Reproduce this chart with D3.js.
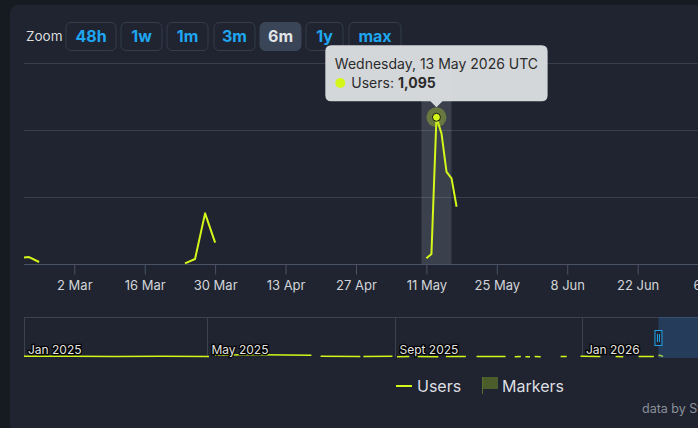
<!DOCTYPE html>
<html>
<head>
<meta charset="utf-8">
<script src="https://cdn.jsdelivr.net/npm/d3@7"></script>
<style>
body { margin: 0; background: #161a21; overflow: hidden; }
svg { display: block; font-family: Inter, "Noto Sans", sans-serif; }
</style>
</head>
<body>
<div id="chart"></div>
<script>
// main series (6m window)
var dates = ['2026-02-20', '2026-02-21', '2026-02-23', '2026-03-10', '2026-03-24', '2026-03-26', '2026-03-28', '2026-03-30', '2026-04-20',
	'2026-05-11', '2026-05-12', '2026-05-13', '2026-05-14', '2026-05-15', '2026-05-16', '2026-05-17'];
var users = [48, 52, 15, null, 5, 37, 378, 159, null, 42, 75, 1095, 974, 688, 639, 427];

// older data only seen in the navigator
var histDates = ['2025-01-01', '2025-02-01', '2025-03-01', '2025-04-01', '2025-05-02', '2025-05-04',
	'2025-05-06', '2025-06-05', '2025-07-08', '2025-07-11',
	'2025-07-14', '2025-08-09', '2025-08-10',
	'2025-08-11', '2025-08-30', '2025-09-01',
	'2025-09-02', '2025-09-10', '2025-09-12',
	'2025-09-15', '2025-09-29', '2025-10-01',
	'2025-10-04', '2025-10-17', '2025-10-20',
	'2025-10-24', '2025-11-12', '2025-11-15',
	'2025-11-18', '2025-11-22', '2025-11-24',
	'2025-11-25', '2025-11-28', '2025-11-30',
	'2025-12-01', '2025-12-05', '2025-12-10',
	'2025-12-18', '2025-12-22', '2025-12-26',
	'2025-12-31', '2026-01-13', '2026-01-18',
	'2026-01-23', '2026-01-28', '2026-02-02',
	'2026-02-07', '2026-02-17', '2026-02-19'];
var histUsers = [20, 25, 15, 20, 18, null, 60, 70, 55, null, 20, 15, null, 15, 20, null, 10, 12, null, 15, 10, null,
	12, 14, null, 18, 15, null, 10, 12, null, 10, 10, null, 12, 10, null, 14, 12, null, 20, 15, null, 12, 10, null, 15, 12, null];

var tickDates = ['2026-03-02', '2026-03-16', '2026-03-30', '2026-04-13', '2026-04-27', '2026-05-11', '2026-05-25', '2026-06-08', '2026-06-22', '2026-07-06'];
var gridValues = [500, 1000, 1500];
var navLabels = ['2025-01-01', '2025-05-01', '2025-09-01', '2026-01-01'];
var navLabelText = ['Jan 2025', 'May 2025', 'Sept 2025', 'Jan 2026'];
var zoomButtons = ['48h', '1w', '1m', '3m', '6m', '1y', 'max'];
var selectedButton = '6m';
var hoverDate = '2026-05-13';

var width = 698;
var height = 428;
var lineColor = '#d4f719';
var parse = d3.utcParse('%Y-%m-%d');

var svg = d3.select('#chart')
	.append('svg')
	.attr('width', width)
	.attr('height', height);

// card
svg.append('rect')
	.attr('x', 10).attr('y', 5)
	.attr('width', width).attr('height', height)
	.attr('rx', 8)
	.attr('fill', '#1f2430');

// zoom buttons
svg.append('text')
	.attr('x', 26).attr('y', 41)
	.attr('font-size', 13.5)
	.attr('fill', '#dcdcdc')
	.text('Zoom');

var btnX = [66, 121, 167, 214, 260, 306, 349];
var btnW = [50, 41, 41, 41, 41, 37, 52];
var btn = svg.selectAll('.btn')
	.data(zoomButtons)
	.enter().append('g')
	.attr('transform', function(d, i) { return 'translate(' + btnX[i] + ',22.5)'; });
btn.append('rect')
	.attr('width', function(d, i) { return btnW[i]; })
	.attr('height', 28)
	.attr('rx', 5)
	.attr('fill', function(d) { return d == selectedButton ? '#3a4557' : 'none'; })
	.attr('stroke', function(d) { return d == selectedButton ? '#3a4557' : '#353d4b'; });
btn.append('text')
	.attr('x', function(d, i) { return btnW[i] / 2; })
	.attr('y', 19.5)
	.attr('text-anchor', 'middle')
	.attr('font-size', 16)
	.attr('font-weight', 700)
	.attr('fill', function(d) { return d == selectedButton ? '#e2e4e8' : '#1fa6f2'; })
	.text(function(d) { return d; });

// main plot
var x = d3.scaleUtc()
	.domain([parse('2026-02-20'), parse('2026-07-08')])
	.range([24, 24 + 138 * 5.03]);

var y = d3.scaleLinear()
	.domain([0, 1500])
	.range([264, 63]);

svg.selectAll('.grid')
	.data(gridValues)
	.enter().append('line')
	.attr('x1', 24).attr('x2', width)
	.attr('y1', function(d) { return y(d) + 0.5; })
	.attr('y2', function(d) { return y(d) + 0.5; })
	.attr('stroke', '#373f4d');

// hover band
var hd = parse(hoverDate);
var hv = users[dates.indexOf(hoverDate)];
svg.append('rect')
	.attr('x', x(hd) - 15).attr('y', y(1500))
	.attr('width', 30).attr('height', y(0) - y(1500))
	.attr('fill', 'rgba(200,210,225,0.17)');

var xAxis = d3.axisBottom(x)
	.tickValues(tickDates.map(parse))
	.tickFormat(d3.utcFormat('%-d %b'))
	.tickSize(10)
	.tickPadding(6);

var gx = svg.append('g')
	.attr('transform', 'translate(0,' + (y(0) + 0.5) + ')')
	.call(xAxis);
gx.select('.domain').attr('stroke', '#4a5466').attr('d', 'M24,0H' + width);
gx.selectAll('.tick line').attr('stroke', '#4a5466');
gx.selectAll('.tick text')
	.attr('fill', '#d2d4d8')
	.attr('font-size', 13)
	.attr('font-family', 'Inter, sans-serif');

svg.append('clipPath').attr('id', 'plotclip')
	.append('rect').attr('x', 24).attr('y', 40).attr('width', width).attr('height', 230);

var mainData = dates.map(function(d, i) { return { date: parse(d), v: users[i] }; });

var line = d3.line()
	.defined(function(d) { return d.v != null; })
	.x(function(d) { return x(d.date); })
	.y(function(d) { return y(d.v); });

svg.append('path')
	.datum(mainData)
	.attr('clip-path', 'url(#plotclip)')
	.attr('fill', 'none')
	.attr('stroke', lineColor)
	.attr('stroke-width', 2)
	.attr('stroke-linejoin', 'round')
	.attr('d', line);

// hovered point
svg.append('circle')
	.attr('cx', x(hd)).attr('cy', y(hv)).attr('r', 10)
	.attr('fill', 'rgba(190,225,40,0.35)');
svg.append('circle')
	.attr('cx', x(hd)).attr('cy', y(hv)).attr('r', 4)
	.attr('fill', lineColor)
	.attr('stroke', '#111')
	.attr('stroke-width', 1);

// navigator
var navData = histDates.map(function(d, i) { return { date: parse(d), v: histUsers[i] }; }).concat(mainData);

var nx = d3.scaleUtc()
	.domain([parse('2025-01-01'), parse('2026-05-17')])
	.range([24, 24 + 501 * 1.5288]);
var ny = d3.scaleLinear()
	.domain([0, d3.max(navData, function(d) { return d.v; })])
	.range([357, 320]);

svg.append('line')
	.attr('x1', 24).attr('x2', width)
	.attr('y1', 317.5).attr('y2', 317.5)
	.attr('stroke', '#3a4250');

svg.selectAll('.navgrid')
	.data(navLabels)
	.enter().append('line')
	.attr('x1', function(d) { return Math.round(nx(parse(d))) + 0.5; })
	.attr('x2', function(d) { return Math.round(nx(parse(d))) + 0.5; })
	.attr('y1', 317).attr('y2', 357)
	.attr('stroke', '#3a4250');

svg.append('path')
	.datum(navData)
	.attr('fill', 'none')
	.attr('stroke', lineColor)
	.attr('stroke-width', 1.5)
	.attr('d', d3.line()
		.defined(function(d) { return d.v != null; })
		.x(function(d) { return nx(d.date); })
		.y(function(d) { return ny(d.v); }));

svg.selectAll('.navlabel')
	.data(navLabels)
	.enter().append('text')
	.attr('x', function(d) { return nx(parse(d)) + 4; })
	.attr('y', 354)
	.attr('font-size', 12)
	.attr('fill', '#e4e4e4')
	.attr('stroke', '#000')
	.attr('stroke-width', 2.5)
	.attr('paint-order', 'stroke')
	.text(function(d, i) { return navLabelText[i]; });

// selected range of the navigator
var selX = nx(x.domain()[0]);
svg.append('rect')
	.attr('x', selX).attr('y', 317)
	.attr('width', width - selX).attr('height', 41)
	.attr('fill', 'rgba(50,110,170,0.35)');
svg.append('rect')
	.attr('x', selX - 3.5).attr('y', 330.5)
	.attr('width', 7).attr('height', 15)
	.attr('fill', '#1f2430')
	.attr('stroke', '#22a3ec');
svg.append('path')
	.attr('d', 'M' + (selX - 1) + ',334V342M' + (selX + 1) + ',334V342')
	.attr('stroke', '#22a3ec');

// legend
svg.append('line')
	.attr('x1', 396).attr('x2', 412)
	.attr('y1', 386).attr('y2', 386)
	.attr('stroke', lineColor).attr('stroke-width', 2);
svg.append('text')
	.attr('x', 417).attr('y', 391.5)
	.attr('font-size', 16)
	.attr('fill', '#dedfe2')
	.text('Users');
svg.append('rect')
	.attr('x', 482).attr('y', 377)
	.attr('width', 16).attr('height', 12)
	.attr('fill', '#4a5d2a');
svg.append('line')
	.attr('x1', 482.5).attr('x2', 482.5)
	.attr('y1', 377).attr('y2', 394)
	.attr('stroke', '#5b7030');
svg.append('text')
	.attr('x', 502).attr('y', 391.5)
	.attr('font-size', 16)
	.attr('fill', '#dedfe2')
	.text('Markers');

svg.append('text')
	.attr('x', 642).attr('y', 413)
	.attr('font-size', 12.5)
	.attr('fill', '#8b9099')
	.text('data by SteamDB');

// tooltip
var tip = svg.append('g');
var tipBox = tip.append('path').attr('fill', 'rgba(218,221,224,0.97)');
var t1 = tip.append('text')
	.attr('y', 68.5)
	.attr('font-size', 14)
	.attr('fill', '#2b2b2b')
	.text(d3.utcFormat('%A, %-d %B %Y')(hd) + ' UTC');
var t2 = tip.append('text')
	.attr('y', 88)
	.attr('font-size', 14)
	.attr('fill', '#2b2b2b');
t2.append('tspan').text('Users: ');
t2.append('tspan').attr('font-weight', 700).text(d3.format(',')(hv));
var tw = Math.max(t1.node().getComputedTextLength(), t2.node().getComputedTextLength() + 17) + 19;
var px = x(hd), boxBottom = y(hv) - 16, boxTop = boxBottom - 56;
var boxLeft = px - tw / 2, boxRight = px + tw / 2, r = 6;
tipBox.attr('d', 'M' + (boxLeft + r) + ',' + boxTop + 'H' + (boxRight - r) +
	'Q' + boxRight + ',' + boxTop + ' ' + boxRight + ',' + (boxTop + r) +
	'V' + (boxBottom - r) + 'Q' + boxRight + ',' + boxBottom + ' ' + (boxRight - r) + ',' + boxBottom +
	'H' + (px + 6) + 'L' + px + ',' + (boxBottom + 6) + 'L' + (px - 6) + ',' + boxBottom +
	'H' + (boxLeft + r) + 'Q' + boxLeft + ',' + boxBottom + ' ' + boxLeft + ',' + (boxBottom - r) +
	'V' + (boxTop + r) + 'Q' + boxLeft + ',' + boxTop + ' ' + (boxLeft + r) + ',' + boxTop + 'Z');
t1.attr('x', boxLeft + 9.5);
t2.attr('x', boxLeft + 26);
tip.append('circle')
	.attr('cx', boxLeft + 15).attr('cy', 83)
	.attr('r', 5)
	.attr('fill', lineColor);
</script>
</body>
</html>
